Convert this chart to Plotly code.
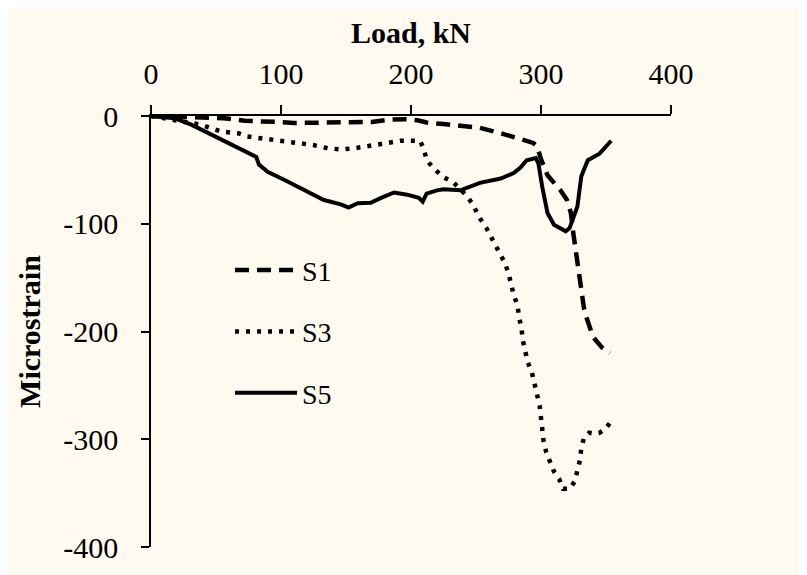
import plotly.graph_objects as go

# S1 (dashed)
s1_load = [0, 10, 20, 30, 40, 56, 72, 84, 97, 110, 128, 146, 160, 170, 182, 196, 205, 212,
           225, 238, 253, 269, 282, 294, 297, 300, 305, 310, 315, 320, 323, 325, 327, 329,
           331, 333, 335, 340, 347, 353]
s1_strain = [0, -0.5, -0.5, -1, -1, -2, -4.5, -4.5, -5.5, -6.5, -6.5, -6.5, -5.5, -5.5, -3.5, -3,
             -4, -6, -7.5, -9, -11, -16, -21, -25, -28, -40, -55, -62, -69, -78, -90, -110,
             -128, -143, -160, -178, -187, -205, -215, -220]

# S3 (dotted)
s3_load = [0, 18, 38, 54, 67, 74, 84, 95, 107, 125, 136, 146, 156, 166, 177, 192, 207, 210,
           212, 217, 224, 233, 242, 247, 253, 258, 263, 267, 272, 275, 277, 279, 282, 283,
           285, 286, 288, 290, 293, 295, 297, 299, 300, 301, 302, 304, 307, 310, 314, 317,
           322, 326, 328, 330, 331, 333, 337, 341, 345, 349, 353]
s3_strain = [0, -3.7, -8, -14.5, -16, -19, -20.5, -23, -25, -27, -30, -31, -30, -28.5, -26,
             -23, -23, -31, -41, -48, -56, -62, -73, -81, -95, -104, -115, -124, -136, -146,
             -156, -166, -176, -186, -197, -208, -219, -229, -238, -248, -259, -269, -280,
             -291, -302, -312, -321, -330, -337, -346, -346, -339, -329, -319, -308, -299,
             -294, -295, -294, -291, -285]

# S5 (solid)
s5_load = [0, 18, 31, 44, 59, 77, 81, 83, 90, 102, 115, 133, 146, 152, 159, 169, 177, 187,
           197, 206, 209, 212, 220, 225, 238, 253, 269, 279, 284, 289, 296, 298, 301, 305,
           310, 319, 322, 328, 331, 336, 345, 354]
s5_strain = [0, -2, -8, -16, -25, -36, -38, -45, -52, -59, -67, -78, -82, -85, -81, -80.5,
             -76, -71, -73, -76, -79.5, -72, -69, -68, -69, -62, -58, -53, -48, -41, -39,
             -44, -66, -90, -101, -107, -104, -84, -56, -41, -35, -23]

x_ticks = [0, 100, 200, 300, 400]
y_ticks = [0, -100, -200, -300, -400]
y_tick_text = ["0", "-100", "-200", "-300", "-400"]

FONT = "Liberation Serif, Times New Roman, serif"
BG = "#FEFAF0"

fig = go.Figure()
fig.add_trace(go.Scatter(x=s1_load, y=s1_strain, mode="lines", name="S1", legendgroup="a",
                         line=dict(color="black", width=4.5, dash="14px,8px")))
fig.add_trace(go.Scatter(x=s3_load, y=s3_strain, mode="lines", name="S3", legendgroup="b",
                         line=dict(color="black", width=4.5, dash="4px,7px")))
fig.add_trace(go.Scatter(x=s5_load, y=s5_strain, mode="lines", name="S5", legendgroup="c",
                         line=dict(color="black", width=4)))

fig.update_layout(
    width=799, height=567,
    margin=dict(l=143, r=136, t=108, b=28),
    paper_bgcolor=BG, plot_bgcolor=BG,
    font=dict(family=FONT, size=30, color="black"),
    showlegend=True,
    legend=dict(x=0.152, y=0.70, xanchor="left", yanchor="top", bgcolor="rgba(0,0,0,0)",
                font=dict(size=28, family=FONT), tracegroupgap=22, traceorder="grouped",
                itemwidth=62),
    xaxis=dict(range=[0, 400], side="top", tickvals=x_ticks, ticks="outside", ticklen=9,
               tickwidth=1.5, tickcolor="black", showline=True, linecolor="black",
               linewidth=1.5, showgrid=False, zeroline=False, ticklabelstandoff=9,
               title=dict(text="<b>Load, kN</b>", font=dict(size=30), standoff=5)),
    yaxis=dict(range=[-400, 0], tickvals=y_ticks, ticktext=y_tick_text, ticks="outside",
               ticklen=8, tickwidth=1.5, tickcolor="black", showline=True, linecolor="black",
               linewidth=1.5, showgrid=False, zeroline=False, ticklabelstandoff=17,
               title=dict(text="<b>Microstrain</b>", font=dict(size=30), standoff=14)),
)

fig.write_html("out.html")
